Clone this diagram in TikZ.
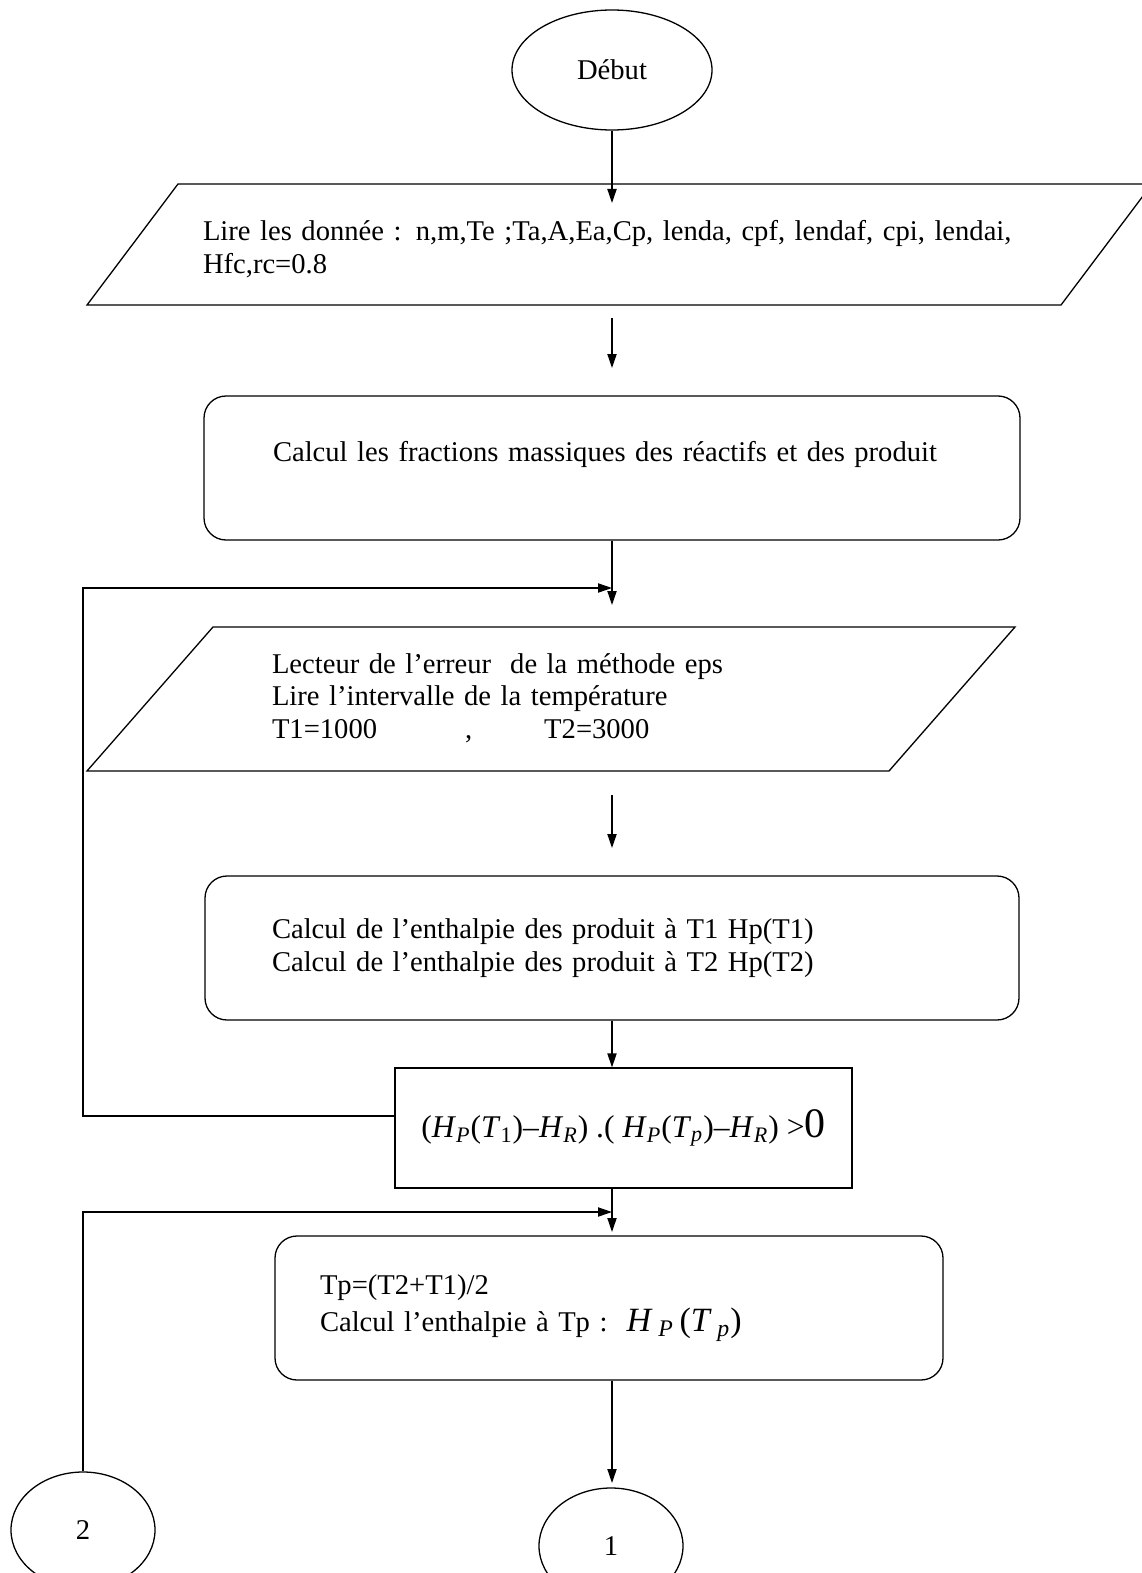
\documentclass[tikz,border=0pt]{standalone}
\usepackage{fontspec}
\setmainfont{Liberation Serif}
\usetikzlibrary{arrows.meta,shapes.geometric}

\begin{document}
\begin{tikzpicture}[x=0.5pt,y=-0.5pt,
  every node/.style={font=\fontsize{14.3pt}{16.25pt}\selectfont},
  trait/.style={line width=0.65pt, black},
  fleche/.style={trait, -{Triangle[length=7pt,width=4.6pt]}},
  terminal/.style={draw, trait, ellipse, inner sep=0pt},
  lecture/.style={align=left, inner sep=0pt},
  boite/.style={draw, trait, rounded corners=11pt, align=left, inner sep=0pt},
  test/.style={draw, trait, inner sep=0pt, font=\fontsize{15.8pt}{16.25pt}\selectfont}]
  \useasboundingbox (0,0) rectangle (1141,1573);
  % symboles de l'organigramme
  \node[terminal, minimum width=100pt, minimum height=60pt] (debut) at (612,70) {Début};
  \draw[trait] (178,184) -- (1152,184) -- (1061,305) -- (87,305) -- cycle;
  \node[lecture, text width=416.5pt] (donnees) at (619.5,249)
    {Lire les donnée : n,m,Te ;Ta,A,Ea,Cp, lenda, cpf, lendaf, cpi, lendai,\\Hfc,rc=0.8};
  \node[boite, minimum width=408pt, minimum height=72pt, text width=339pt] (fractions) at (612,468)
    {Calcul les fractions massiques des réactifs et des produit\\~};
  \draw[trait] (213,627) -- (1015,627) -- (889,771) -- (87,771) -- cycle;
  \node[lecture, text width=279pt] (erreur) at (551,698)
    {Lecteur de l’erreur\ \ de la méthode eps\\Lire l’intervalle de la température\\T1=1000\hspace{44pt},\hspace{36pt}T2=3000};
  \node[boite, minimum width=407pt, minimum height=72pt, text width=340pt] (enthalpie) at (612,948)
    {Calcul de l’enthalpie des produit à T1 Hp(T1)\\Calcul de l’enthalpie des produit à T2 Hp(T2)};
  \node[test, minimum width=228.5pt, minimum height=60pt] (cond) at (623.5,1128)
    {(\textit{H}\textsubscript{\textit{P}}(\textit{T}\textsubscript{1})–\textit{H}\textsubscript{\textit{R}})\ .(\ \textit{H}\textsubscript{\textit{P}}(\textit{T}\textsubscript{\textit{p}})–\textit{H}\textsubscript{\textit{R}})\ >{\fontsize{21pt}{21pt}\selectfont 0}};
  \node[boite, minimum width=334pt, minimum height=72pt, text width=289pt] (milieu) at (609,1308)
    {Tp=(T2+T1)/2\\[2.25pt]Calcul l’enthalpie à Tp :\ \ {\fontsize{17pt}{17pt}\selectfont\textit{H}\,\textsubscript{\textit{P}}\,(\textit{T}\,\textsubscript{\textit{p}})}};
  \node[terminal, minimum width=72pt, minimum height=58pt] (renvoi2) at (83,1530) {2};
  \node[terminal, minimum width=72pt, minimum height=58pt] (renvoi1) at (611,1546) {1};
  % extrémités libres des flèches
  \coordinate (f1) at (612,203);
  \coordinate (f2a) at (612,318);
  \coordinate (f2b) at (612,368);
  \coordinate (f3) at (612,605);
  \coordinate (f4a) at (612,795);
  \coordinate (f4b) at (612,848);
  \coordinate (f6) at (612,1232);
  \coordinate (f7) at (612,1483);
  \coordinate (b1) at (83,588);
  \coordinate (j1) at (612,588);
  \coordinate (j2) at (612,1212);
  % liaisons
  \draw[fleche] (debut) -- (f1);
  \draw[fleche] (f2a) -- (f2b);
  \draw[fleche] (fractions) -- (f3);
  \draw[fleche] (f4a) -- (f4b);
  \draw[fleche] (enthalpie) -- (enthalpie.south |- cond.north);
  \draw[fleche] (cond.south -| f6) -- (f6);
  \draw[fleche] (milieu.south -| f7) -- (f7);
  % retours
  \draw[fleche] ([yshift=6pt]cond.west) -| (b1) -- (j1);
  \draw[fleche] (renvoi2) |- (j2);
\end{tikzpicture}
\end{document}
